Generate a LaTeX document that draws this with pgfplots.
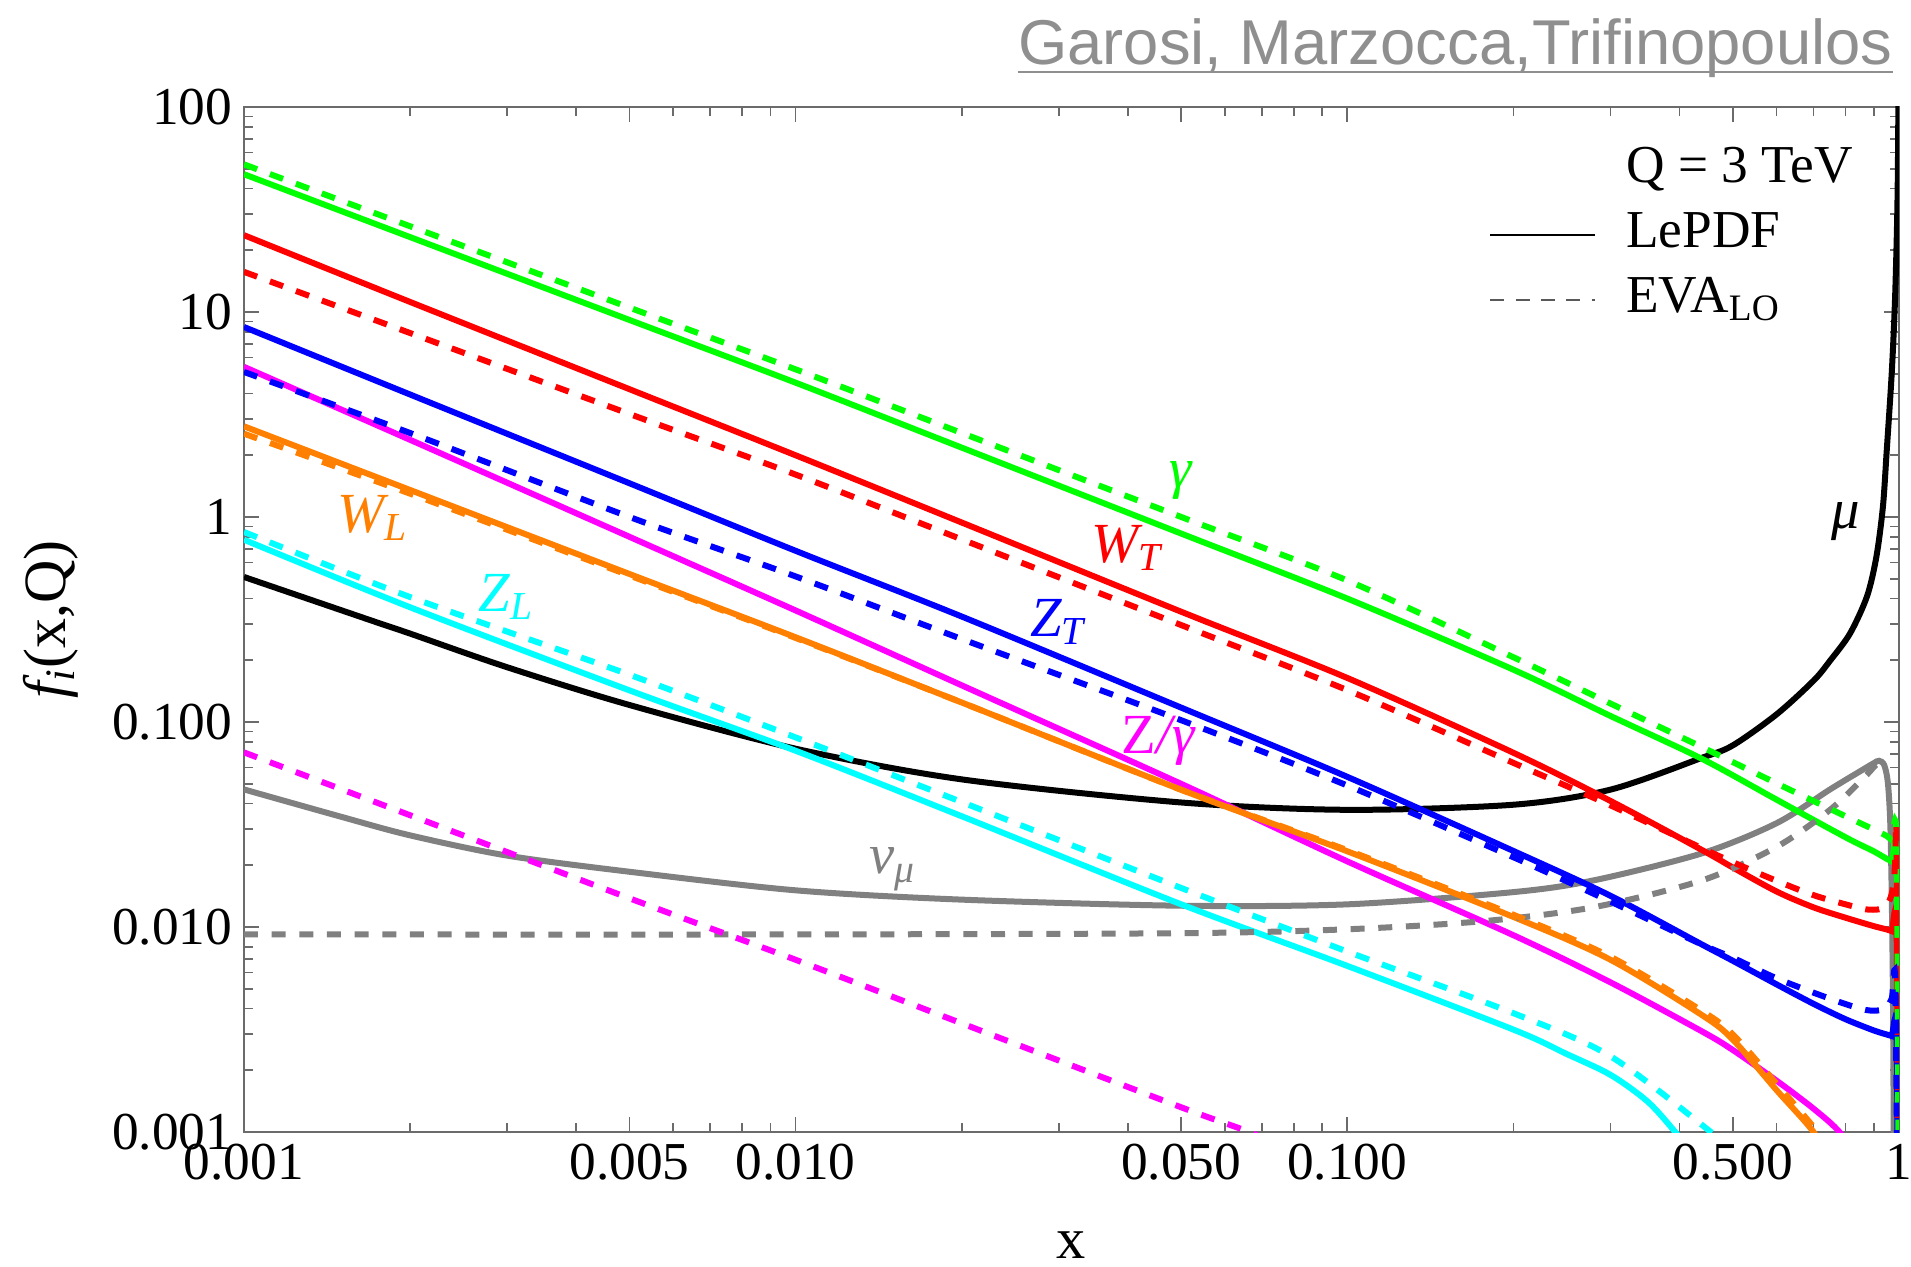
\documentclass[border=0pt]{standalone}
\usepackage{fontspec}
\setmainfont{Liberation Serif}
\newfontfamily\authorfont{Liberation Sans}
\usepackage{pgfplots}
\pgfplotsset{compat=1.18}
\usetikzlibrary{calc}

\definecolor{mgreen}{rgb}{0,1,0}
\definecolor{mred}{rgb}{1,0,0}
\definecolor{mblue}{rgb}{0,0,1}
\definecolor{mmag}{rgb}{1,0,1}
\definecolor{morange}{rgb}{1,0.5,0}
\definecolor{mcyan}{rgb}{0,1,1}
\definecolor{mgray}{rgb}{0.5,0.5,0.5}
\definecolor{authorgray}{rgb}{0.56,0.56,0.56}
\definecolor{framegray}{rgb}{0.42,0.42,0.42}

\newcommand{\lbl}{\fontsize{17}{20}\selectfont\itshape}
\newcommand{\tickfont}{\fontsize{16}{19}\selectfont}

\tikzset{
  sol/.style={line width=1.8pt, smooth, tension=0.5},
  das/.style={line width=1.8pt, smooth, tension=0.5, dash pattern=on 4.2pt off 4.1pt},
}

\begin{document}
\begin{tikzpicture}
\begin{axis}[
  scale only axis, width=496.5pt, height=307.5pt,
  xmode=log, ymode=log,
  xmin=0.001, xmax=1, ymin=0.001, ymax=100,
  xtick={0.001,0.005,0.01,0.05,0.1,0.5,1},
  xticklabels={0.001,0.005,0.010,0.050,0.100,0.500,1},
  minor xtick={0.002,0.003,0.004,0.006,0.007,0.008,0.009,0.02,0.03,0.04,0.06,0.07,0.08,0.09,0.2,0.3,0.4,0.6,0.7,0.8,0.9},
  ytick={0.001,0.01,0.1,1,10,100},
  yticklabels={0.001,0.010,0.100,1,10,100},
  minor ytick={0.002,0.003,0.004,0.005,0.006,0.007,0.008,0.009,0.02,0.03,0.04,0.05,0.06,0.07,0.08,0.09,0.2,0.3,0.4,0.5,0.6,0.7,0.8,0.9,2,3,4,5,6,7,8,9,20,30,40,50,60,70,80,90},
  tick align=inside, tick pos=both,
  major tick length=4.5pt, minor tick length=2.8pt,
  tick style={framegray, line width=0.5pt},
  axis line style={framegray, line width=0.6pt},
  tick label style={font=\tickfont},
  clip mode=individual,
  legend style={at={(axis description cs:0.752,0.963)}, anchor=north west,
    draw=none, fill=none, font=\tickfont, inner sep=0pt, row sep=5pt,
    nodes={inner sep=0pt, text height=11pt, text depth=3.5pt},
    /tikz/every odd column/.append style={column sep=9pt}},
  legend cell align=left,
  legend image code/.code={\draw (0pt,0pt) -- (31.5pt,0pt);},
]
\coordinate (SW) at (rel axis cs:0,0);
\coordinate (NE) at (rel axis cs:1,1);
\coordinate (W) at (rel axis cs:0,0.5);
\coordinate (S) at (rel axis cs:0.5,0);

\addlegendimage{empty legend}
\addlegendentry{Q = 3 TeV}
\addlegendimage{black, line width=0.6pt}
\addlegendentry{LePDF}
\addlegendimage{black!65, line width=0.6pt, dash pattern=on 4.2pt off 3.4pt}
\addlegendentry{EVA\textsubscript{LO}}

% ---------- LePDF (solid) ----------
% nu_mu
\addplot[sol, mgray] coordinates {
(0.001,0.0469) (0.0015,0.0345) (0.002,0.0280) (0.003,0.0223) (0.005,0.0186) (0.01,0.0151) (0.02,0.0136)
(0.05,0.0127) (0.1,0.0129) (0.2,0.0148) (0.28,0.0169) (0.44,0.0229)
(0.6,0.0321) (0.75,0.0469) (0.85,0.0575) (0.9,0.063) (0.92,0.0647)
(0.94,0.0617) (0.955,0.050) (0.965,0.030) (0.972,0.010) (0.976,0.00316) (0.979,0.00063)};
% mu
\addplot[sol, black] coordinates {
(0.001,0.51) (0.0017,0.313) (0.002,0.27) (0.003,0.185) (0.005,0.121)
(0.01,0.0741) (0.02,0.0525) (0.05,0.0405) (0.1,0.0373) (0.2,0.0395)
(0.3,0.0468) (0.44,0.067) (0.5,0.077) (0.6,0.109) (0.7,0.159)
(0.75,0.199) (0.815,0.27) (0.875,0.41) (0.91,0.64) (0.935,1.12)
(0.95,2.1) (0.97,5.0) (0.983,11) (0.991,24) (0.995,45) (0.998,126)};
% gamma
\addplot[sol, mgreen] coordinates {
(0.001,47.0) (0.002,23.2) (0.005,9.14) (0.01,4.52) (0.02,2.18) (0.05,0.83)
(0.1,0.40) (0.2,0.180) (0.3,0.107) (0.44,0.066) (0.6,0.0418) (0.8,0.0274)
(0.9,0.0234) (0.95,0.0215) (0.97,0.0209) (0.99,0.020) (0.998,0.0003)};
% W_T
\addplot[sol, mred] coordinates {
(0.001,23.7) (0.002,11.2) (0.005,4.2) (0.01,2.0) (0.02,0.94) (0.05,0.345)
(0.1,0.164) (0.2,0.0708) (0.3,0.0412) (0.44,0.0237) (0.5,0.0195) (0.6,0.0149)
(0.7,0.01247) (0.8,0.0111) (0.9,0.0101) (0.95,0.00973) (0.97,0.00955)
(0.99,0.0095) (0.998,0.0002)};
% Z_T
\addplot[sol, mblue] coordinates {
(0.001,8.45) (0.002,3.96) (0.005,1.46) (0.01,0.684) (0.02,0.327) (0.05,0.1175)
(0.1,0.054) (0.2,0.0235) (0.3,0.0142) (0.44,0.0082) (0.5,0.00684) (0.6,0.00525)
(0.7,0.00422) (0.8,0.00355) (0.9,0.00313) (0.95,0.00299) (0.97,0.00294)
(0.99,0.0029) (0.998,0.0001)};
% Z/gamma
\addplot[sol, mmag] coordinates {
(0.001,5.4) (0.002,2.38) (0.005,0.80) (0.01,0.35) (0.02,0.151) (0.05,0.0499)
(0.1,0.0209) (0.2,0.00912) (0.3,0.00537) (0.44,0.00309) (0.5,0.00251)
(0.6,0.00178) (0.7,0.0013) (0.78,0.001) (0.85,0.0007)};
% W_L
\addplot[sol, morange] coordinates {
(0.001,2.77) (0.002,1.355) (0.005,0.527) (0.01,0.259) (0.02,0.1245)
(0.05,0.0467) (0.1,0.0234) (0.2,0.0112) (0.3,0.00692) (0.44,0.00371)
(0.5,0.00282) (0.6,0.0016) (0.7,0.001) (0.75,0.0007)};
% Z_L
\addplot[sol, mcyan] coordinates {
(0.001,0.775) (0.002,0.363) (0.005,0.1426) (0.01,0.0724) (0.02,0.0347)
(0.05,0.0129) (0.1,0.00646) (0.2,0.00316) (0.25,0.0024) (0.3,0.0019) (0.35,0.00141) (0.393,0.001) (0.45,0.00063)};

% ---------- EVA_LO (dashed) ----------
\addplot[das, mgray] coordinates {
(0.001,0.0092) (0.01,0.0092) (0.05,0.00933) (0.1,0.00975) (0.178,0.0107)
(0.28,0.0125) (0.44,0.0169) (0.6,0.0246) (0.75,0.0373) (0.87,0.0546)
(0.9,0.0603) (0.925,0.0645)};
\addplot[das, mgreen] coordinates {
(0.001,52.5) (0.002,26.2) (0.005,10.5) (0.01,5.25) (0.02,2.57) (0.05,1.0)
(0.1,0.49) (0.2,0.207) (0.3,0.123) (0.44,0.0753) (0.6,0.0502) (0.8,0.0347)
(0.9,0.0299) (0.95,0.0278) (0.97,0.0266) (0.99,0.026) (0.998,0.0005)};
\addplot[das, mred] coordinates {
(0.001,15.7) (0.002,7.9) (0.005,3.18) (0.01,1.61) (0.02,0.778) (0.05,0.297)
(0.1,0.143) (0.2,0.0632) (0.3,0.0392) (0.44,0.0242) (0.5,0.0207) (0.6,0.0168)
(0.7,0.0143) (0.8,0.0129) (0.87,0.0122) (0.92,0.0122) (0.95,0.0127)
(0.97,0.0145) (0.98,0.0174) (0.985,0.0219) (0.99,0.0245) (0.998,0.0002)};
\addplot[das, mblue] coordinates {
(0.001,5.1) (0.002,2.57) (0.005,1.0) (0.01,0.513) (0.02,0.254) (0.05,0.102)
(0.1,0.049) (0.2,0.0219) (0.3,0.0133) (0.44,0.0082) (0.5,0.00708) (0.6,0.00562)
(0.75,0.00447) (0.87,0.00394) (0.94,0.00398) (0.97,0.00447) (0.985,0.005) (0.998,0.0001)};
\addplot[das, mmag] coordinates {
(0.001,0.0711) (0.002,0.0351) (0.005,0.0138) (0.01,0.00692) (0.02,0.00339)
(0.05,0.00132) (0.0664,0.001) (0.08,0.00079)};
\addplot[das, morange] coordinates {
(0.001,2.55) (0.002,1.30) (0.005,0.518) (0.01,0.257) (0.02,0.1245)
(0.05,0.0467) (0.1,0.0237) (0.2,0.01148) (0.3,0.00716) (0.44,0.00389)
(0.5,0.00299) (0.6,0.00172) (0.7,0.00106) (0.71,0.001) (0.75,0.00076)};
\addplot[das, mcyan] coordinates {
(0.001,0.845) (0.002,0.407) (0.005,0.17) (0.01,0.0841) (0.02,0.0407)
(0.05,0.0155) (0.1,0.00759) (0.2,0.0038) (0.3,0.00234) (0.456,0.001) (0.5,0.00079)};

% ---------- curve labels ----------
\node[text=mgreen, font=\lbl] at (axis cs:0.0498,1.50) {γ};
\node[text=mred, font=\lbl] at (axis cs:0.0398,0.706) {W\textsubscript{T}};
\node[text=mblue, font=\lbl] at (axis cs:0.0299,0.308) {Z\textsubscript{T}};
\node[text=mmag, font=\lbl] at (axis cs:0.0454,0.0807) {{\upshape Z}/γ};
\node[text=morange, font=\lbl] at (axis cs:0.00171,0.99) {W\textsubscript{L}};
\node[text=mcyan, font=\lbl] at (axis cs:0.00299,0.407) {Z\textsubscript{L}};
\node[text=mgray, font=\lbl] at (axis cs:0.015,0.0192) {ν\textsubscript{μ}};
\node[text=black, font=\lbl] at (axis cs:0.80,0.946) {μ};
\end{axis}

% axis titles
\node[rotate=90, inner sep=0pt, font=\fontsize{18}{21}\selectfont] at ([xshift=-57.9pt]W) {{\itshape f}\textsubscript{\itshape i}(x,Q)};
\node[inner sep=0pt, font=\fontsize{17.5}{20}\selectfont] at ([yshift=-33.8pt]S) {x};

% author line
\node[anchor=base east, inner sep=0pt, text=authorgray, font=\authorfont\fontsize{19}{22}\selectfont] (auth) at ($(NE)+(-1.8pt,12.6pt)$) {Garosi, Marzocca,Trifinopoulos};
\draw[authorgray, line width=0.7pt] ($(auth.base west)+(0,-2.2pt)$) -- ($(auth.base east)+(0,-2.2pt)$);

\pgfresetboundingbox
\path[use as bounding box] ($(SW)+(-73.2pt,-40.2pt)$) rectangle ($(NE)+(3.6pt,32.1pt)$);
\end{tikzpicture}
\end{document}
